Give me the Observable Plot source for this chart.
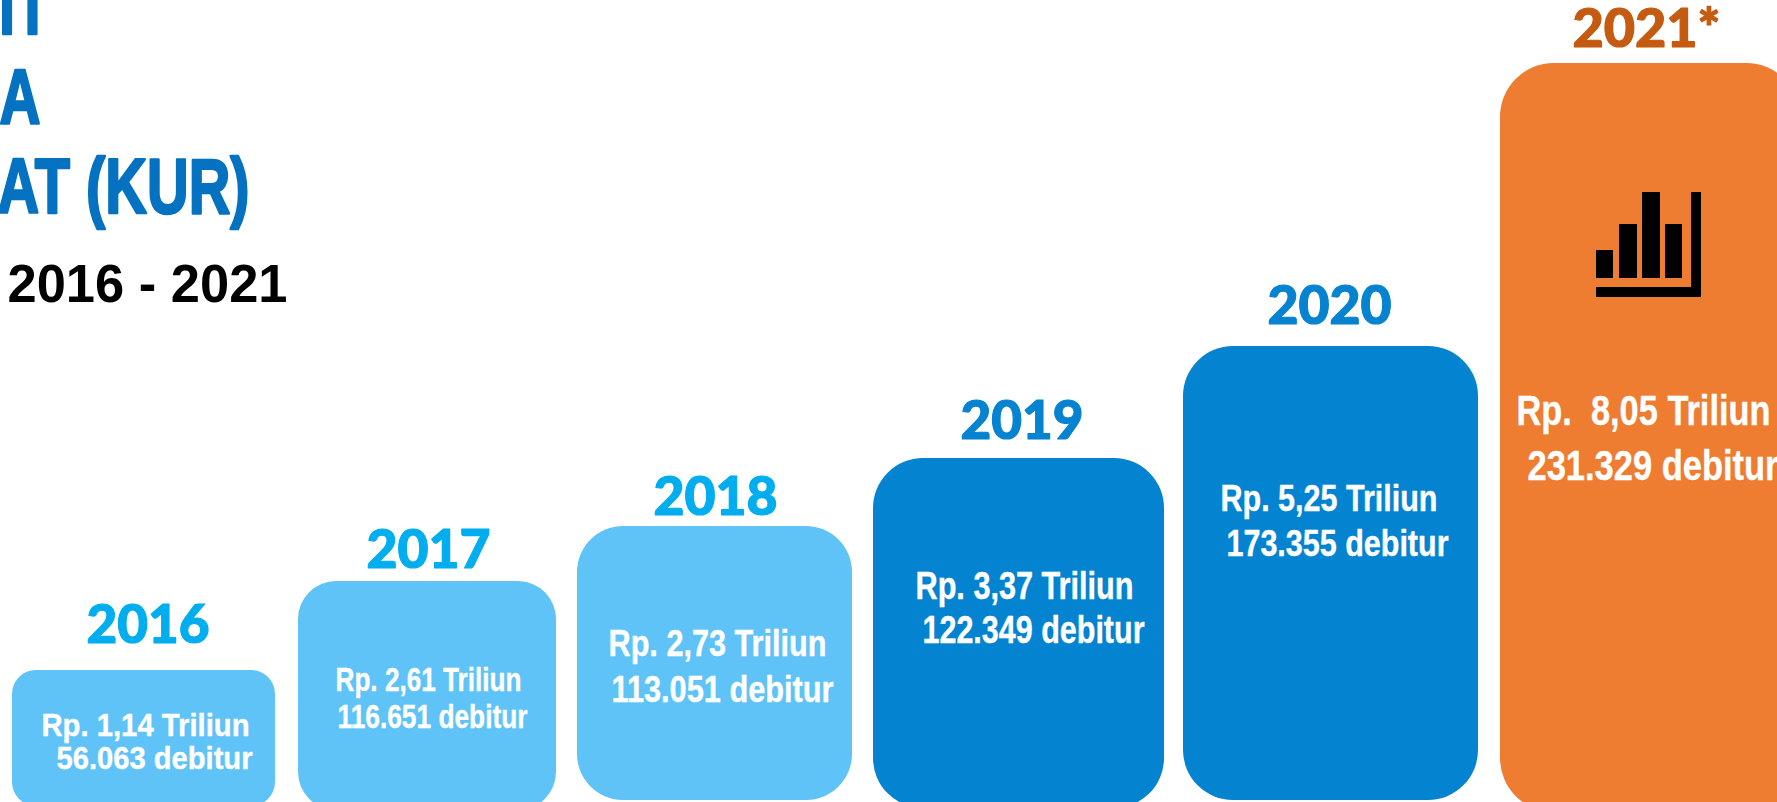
<!DOCTYPE html>
<html>
<head>
<meta charset="utf-8">
<style>html,body{margin:0;padding:0;background:#fff;overflow:hidden}svg{display:block}svg text{white-space:pre}</style>
<script src="https://cdn.jsdelivr.net/npm/d3@7"></script>
<script src="https://cdn.jsdelivr.net/npm/@observablehq/plot@0.6"></script>
</head>
<body>
<div id="chart"></div>
<script>
const years = ["2016","2017","2018","2019","2020","2021*"];
const amounts = ["Rp. 1,14 Triliun","Rp. 2,61 Triliun","Rp. 2,73 Triliun","Rp. 3,37 Triliun","Rp. 5,25 Triliun","Rp.  8,05 Triliun"];
const debtors = ["56.063 debitur","116.651 debitur","113.051 debitur","122.349 debitur","173.355 debitur","231.329 debitur"];
const barLeft = [12,298,577,873,1183,1500];
const barRight = [275,556,852,1164,1478,1800];
const barTop = [670,581,526,458,346,63];
const barBottom = [806,810,800,808,800,812];
const barRadius = [24,38,46,50,50,54];
const barColor = ["#5fc3f7","#5fc3f7","#5fc3f7","#0483d0","#0483d0","#ee7c31"];
const yearColor = ["#00aeef","#00aeef","#00aeef","#0583d0","#0583d0","#c55a11"];
const yearX = [86,366,653,960,1267,1572];
const yearW = [123,124,124,123,124,148];
const yearY = [625,550,497,421,306,29];
const amountX = [41,335,608,915,1220,1516];
const amountW = [208,186,218,218,217,254];
const amountY = [726,680,644,586,499,411];
const debtorX = [56,337,611,922,1226,1527];
const debtorW = [196,190,222,222,222,251];
const debtorY = [759,717,690,630,544,466];
const textSize = [30.5,33,37,38,37,43];
const titleLines = ["TI","A","AT (KUR)"];
const titleX = [-11,-1,-3];
const titleW = [51,41,252];
const titleBase = [33,123,212];
const period = "2016 - 2021";
const iconBars = [[1596,1613,250,278],[1619,1637,224,278],[1642,1660,192,278],[1665,1682,224,278],[1596,1701,287,297],[1691,1701,192,297]];

const lengths = new Map();
const rows = years.map((year,i)=>({year,amount:amounts[i],debtor:debtors[i],x1:barLeft[i],x2:barRight[i],y1:barBottom[i],y2:barTop[i],fill:barColor[i],yc:yearColor[i],yx:yearX[i],yy:yearY[i],ax:amountX[i],ay:amountY[i],dx:debtorX[i],dy:debtorY[i],s:textSize[i],r:barRadius[i]}));
rows.forEach((d,i)=>{lengths.set(d.year,yearW[i]);lengths.set(d.amount,amountW[i]);lengths.set(d.debtor,debtorW[i]);});
titleLines.forEach((t,i)=>lengths.set(t,titleW[i]));
lengths.set(period,280);
const marks = [];
rows.forEach(d=>marks.push(Plot.rectY([d],{x1:"x1",x2:"x2",y1:"y1",y2:"y2",fill:"fill",rx:d.r,ry:d.r})));
rows.forEach(d=>{
  marks.push(Plot.text([d],{x:"yx",y:"yy",text:"year",fill:"yc",stroke:"yc",strokeWidth:1.2,fontFamily:"Lato",fontWeight:900,fontSize:54,textAnchor:"start",lineAnchor:"middle"}));
  marks.push(Plot.text([d],{x:"ax",y:"ay",text:"amount",fill:"#fff",stroke:"#fff",strokeWidth:0.4,fontFamily:"Liberation Sans",fontWeight:700,fontSize:d.s,textAnchor:"start",lineAnchor:"middle"}));
  marks.push(Plot.text([d],{x:"dx",y:"dy",text:"debtor",fill:"#fff",stroke:"#fff",strokeWidth:0.4,fontFamily:"Liberation Sans",fontWeight:700,fontSize:d.s,textAnchor:"start",lineAnchor:"middle"}));
});
titleLines.forEach((t,i)=>marks.push(Plot.text([t],{x:()=>titleX[i],y:()=>titleBase[i],text:d=>d,textAnchor:"start",lineAnchor:"bottom",fill:"#0472c0",stroke:"#0472c0",strokeWidth:2.5,fontFamily:"Liberation Sans",fontWeight:700,fontSize:77})));
marks.push(Plot.text([period],{x:()=>7,y:()=>285,text:d=>d,textAnchor:"start",fill:"#000",fontFamily:"Liberation Sans",fontWeight:700,fontSize:53,lineAnchor:"middle"}));
iconBars.forEach(b=>marks.push(Plot.rectY([b],{x1:d=>d[0],x2:d=>d[1],y1:d=>d[2],y2:d=>d[3],fill:"#000"})));
const chart = Plot.plot({width:1777,height:802,margin:0,x:{type:"identity"},y:{type:"identity"},style:{background:"#fff",overflow:"hidden"},marks});
chart.querySelectorAll("text").forEach(t=>{
  const w = lengths.get(t.textContent);
  if (w!=null){t.setAttribute("textLength",w);t.setAttribute("lengthAdjust","spacingAndGlyphs");}
});
document.getElementById("chart").appendChild(chart);
</script>
</body>
</html>
